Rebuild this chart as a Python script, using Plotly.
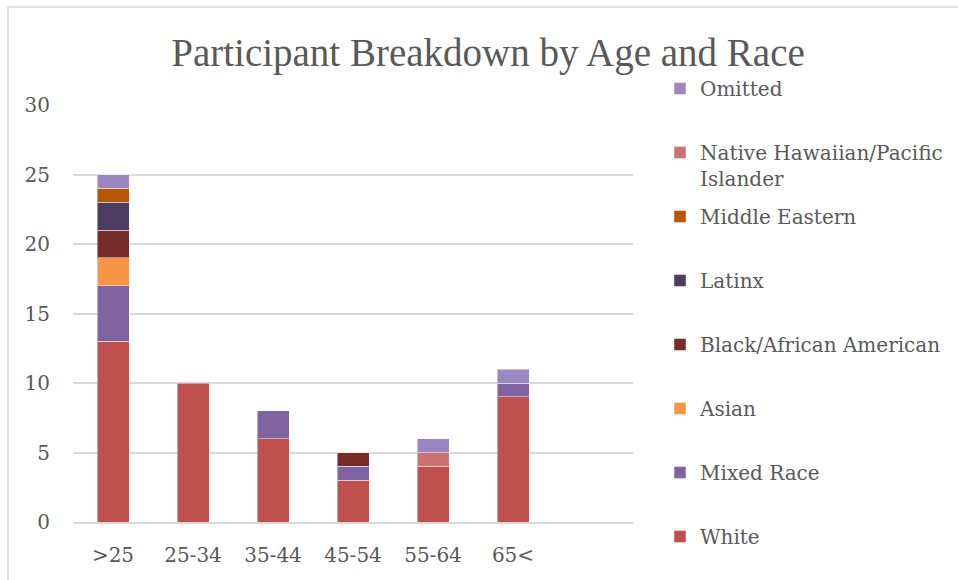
import plotly.graph_objects as go

# Age groups along the x axis
age_groups = [">25", "25-34", "35-44", "45-54", "55-64", "65<"]

# Participant counts per race, one list per stacked series (bottom to top)
white = [13, 10, 6, 3, 4, 9]
mixed_race = [4, 0, 2, 1, 0, 1]
asian = [2, 0, 0, 0, 0, 0]
black_african_american = [2, 0, 0, 1, 0, 0]
latinx = [2, 0, 0, 0, 0, 0]
middle_eastern = [1, 0, 0, 0, 0, 0]
native_hawaiian_pacific_islander = [0, 0, 0, 0, 1, 0]
omitted = [1, 0, 0, 0, 1, 1]

series_names = [
    "White",
    "Mixed Race",
    "Asian",
    "Black/African American",
    "Latinx",
    "Middle Eastern",
    "Native Hawaiian/Pacific<br>Islander",
    "Omitted",
]
series_values = [
    white,
    mixed_race,
    asian,
    black_african_american,
    latinx,
    middle_eastern,
    native_hawaiian_pacific_islander,
    omitted,
]
series_colors = [
    "#C0504D",
    "#8064A2",
    "#F79646",
    "#772C2A",
    "#4D3B62",
    "#B65708",
    "#CD7371",
    "#9C85C0",
]

# Tick labels for the value axis
y_ticks = [0, 5, 10, 15, 20, 25, 30]

TEXT = "#595959"
GRID = "#D9D9D9"
FONT = "DejaVu Serif"

# Plot area in pixels
W, H = 958, 580
L, R, T, B = 73, 325, 105, 58
pw, ph = W - L - R, H - T - B


def px_x(x):
    return (x - L) / pw


def px_y(y):
    return (H - B - y) / ph


fig = go.Figure()

# Legend rows, top to bottom (centre of first text line in pixels)
legend_rows = [537, 473, 409, 345, 281, 217, 153, 89]
legend_ids = ["legend"] + [f"legend{i}" for i in range(2, 9)]

for name, vals, color, lid in zip(series_names, series_values, series_colors, legend_ids):
    fig.add_trace(
        go.Bar(
            x=age_groups,
            y=[v if v else None for v in vals],
            name=name,
            marker=dict(color=color, line=dict(color="rgba(255,255,255,0.45)", width=1)),
            width=0.4,
            legend=lid,
        )
    )

legend_layouts = {}
for lid, row, name in zip(legend_ids, legend_rows, series_names):
    legend_layouts[lid] = dict(
        x=px_x(660),
        xanchor="left",
        y=px_y(row - 20),
        yanchor="top",
        bgcolor="rgba(0,0,0,0)",
        font=dict(family=FONT, size=20, color=TEXT),
        valign="top",
        itemclick=False,
        itemdoubleclick=False,
    )

fig.update_layout(
    width=W,
    height=H,
    margin=dict(l=L, r=R, t=T, b=B, autoexpand=False),
    paper_bgcolor="white",
    plot_bgcolor="white",
    barmode="stack",
    showlegend=True,
    title=dict(
        text="Participant Breakdown by Age and Race",
        font=dict(family="Liberation Serif", size=39, color=TEXT),
        x=px_x(488),
        xref="paper",
        xanchor="center",
        y=1 - 52 / H,
        yref="container",
        yanchor="middle",
    ),
    xaxis=dict(
        type="category",
        categoryorder="array",
        categoryarray=age_groups,
        range=[-0.5, 6.5],
        showgrid=False,
        showline=True,
        linecolor=GRID,
        linewidth=2,
        ticks="",
        ticklabelstandoff=14,
        tickfont=dict(family=FONT, size=20, color=TEXT),
        fixedrange=True,
    ),
    yaxis=dict(
        range=[0, 30],
        tickvals=y_ticks,
        showgrid=True,
        gridcolor=GRID,
        gridwidth=2,
        zeroline=False,
        showline=False,
        ticks="",
        ticklabelstandoff=22,
        tickfont=dict(family=FONT, size=20, color=TEXT),
        fixedrange=True,
    ),
    shapes=[
        dict(
            type="rect",
            xref="paper",
            yref="paper",
            x0=px_x(8),
            x1=px_x(1200),
            y0=px_y(800),
            y1=px_y(7),
            line=dict(color=GRID, width=1.5),
            fillcolor="rgba(0,0,0,0)",
            layer="below",
        )
    ],
    **legend_layouts,
)

fig.write_html("out.html")
